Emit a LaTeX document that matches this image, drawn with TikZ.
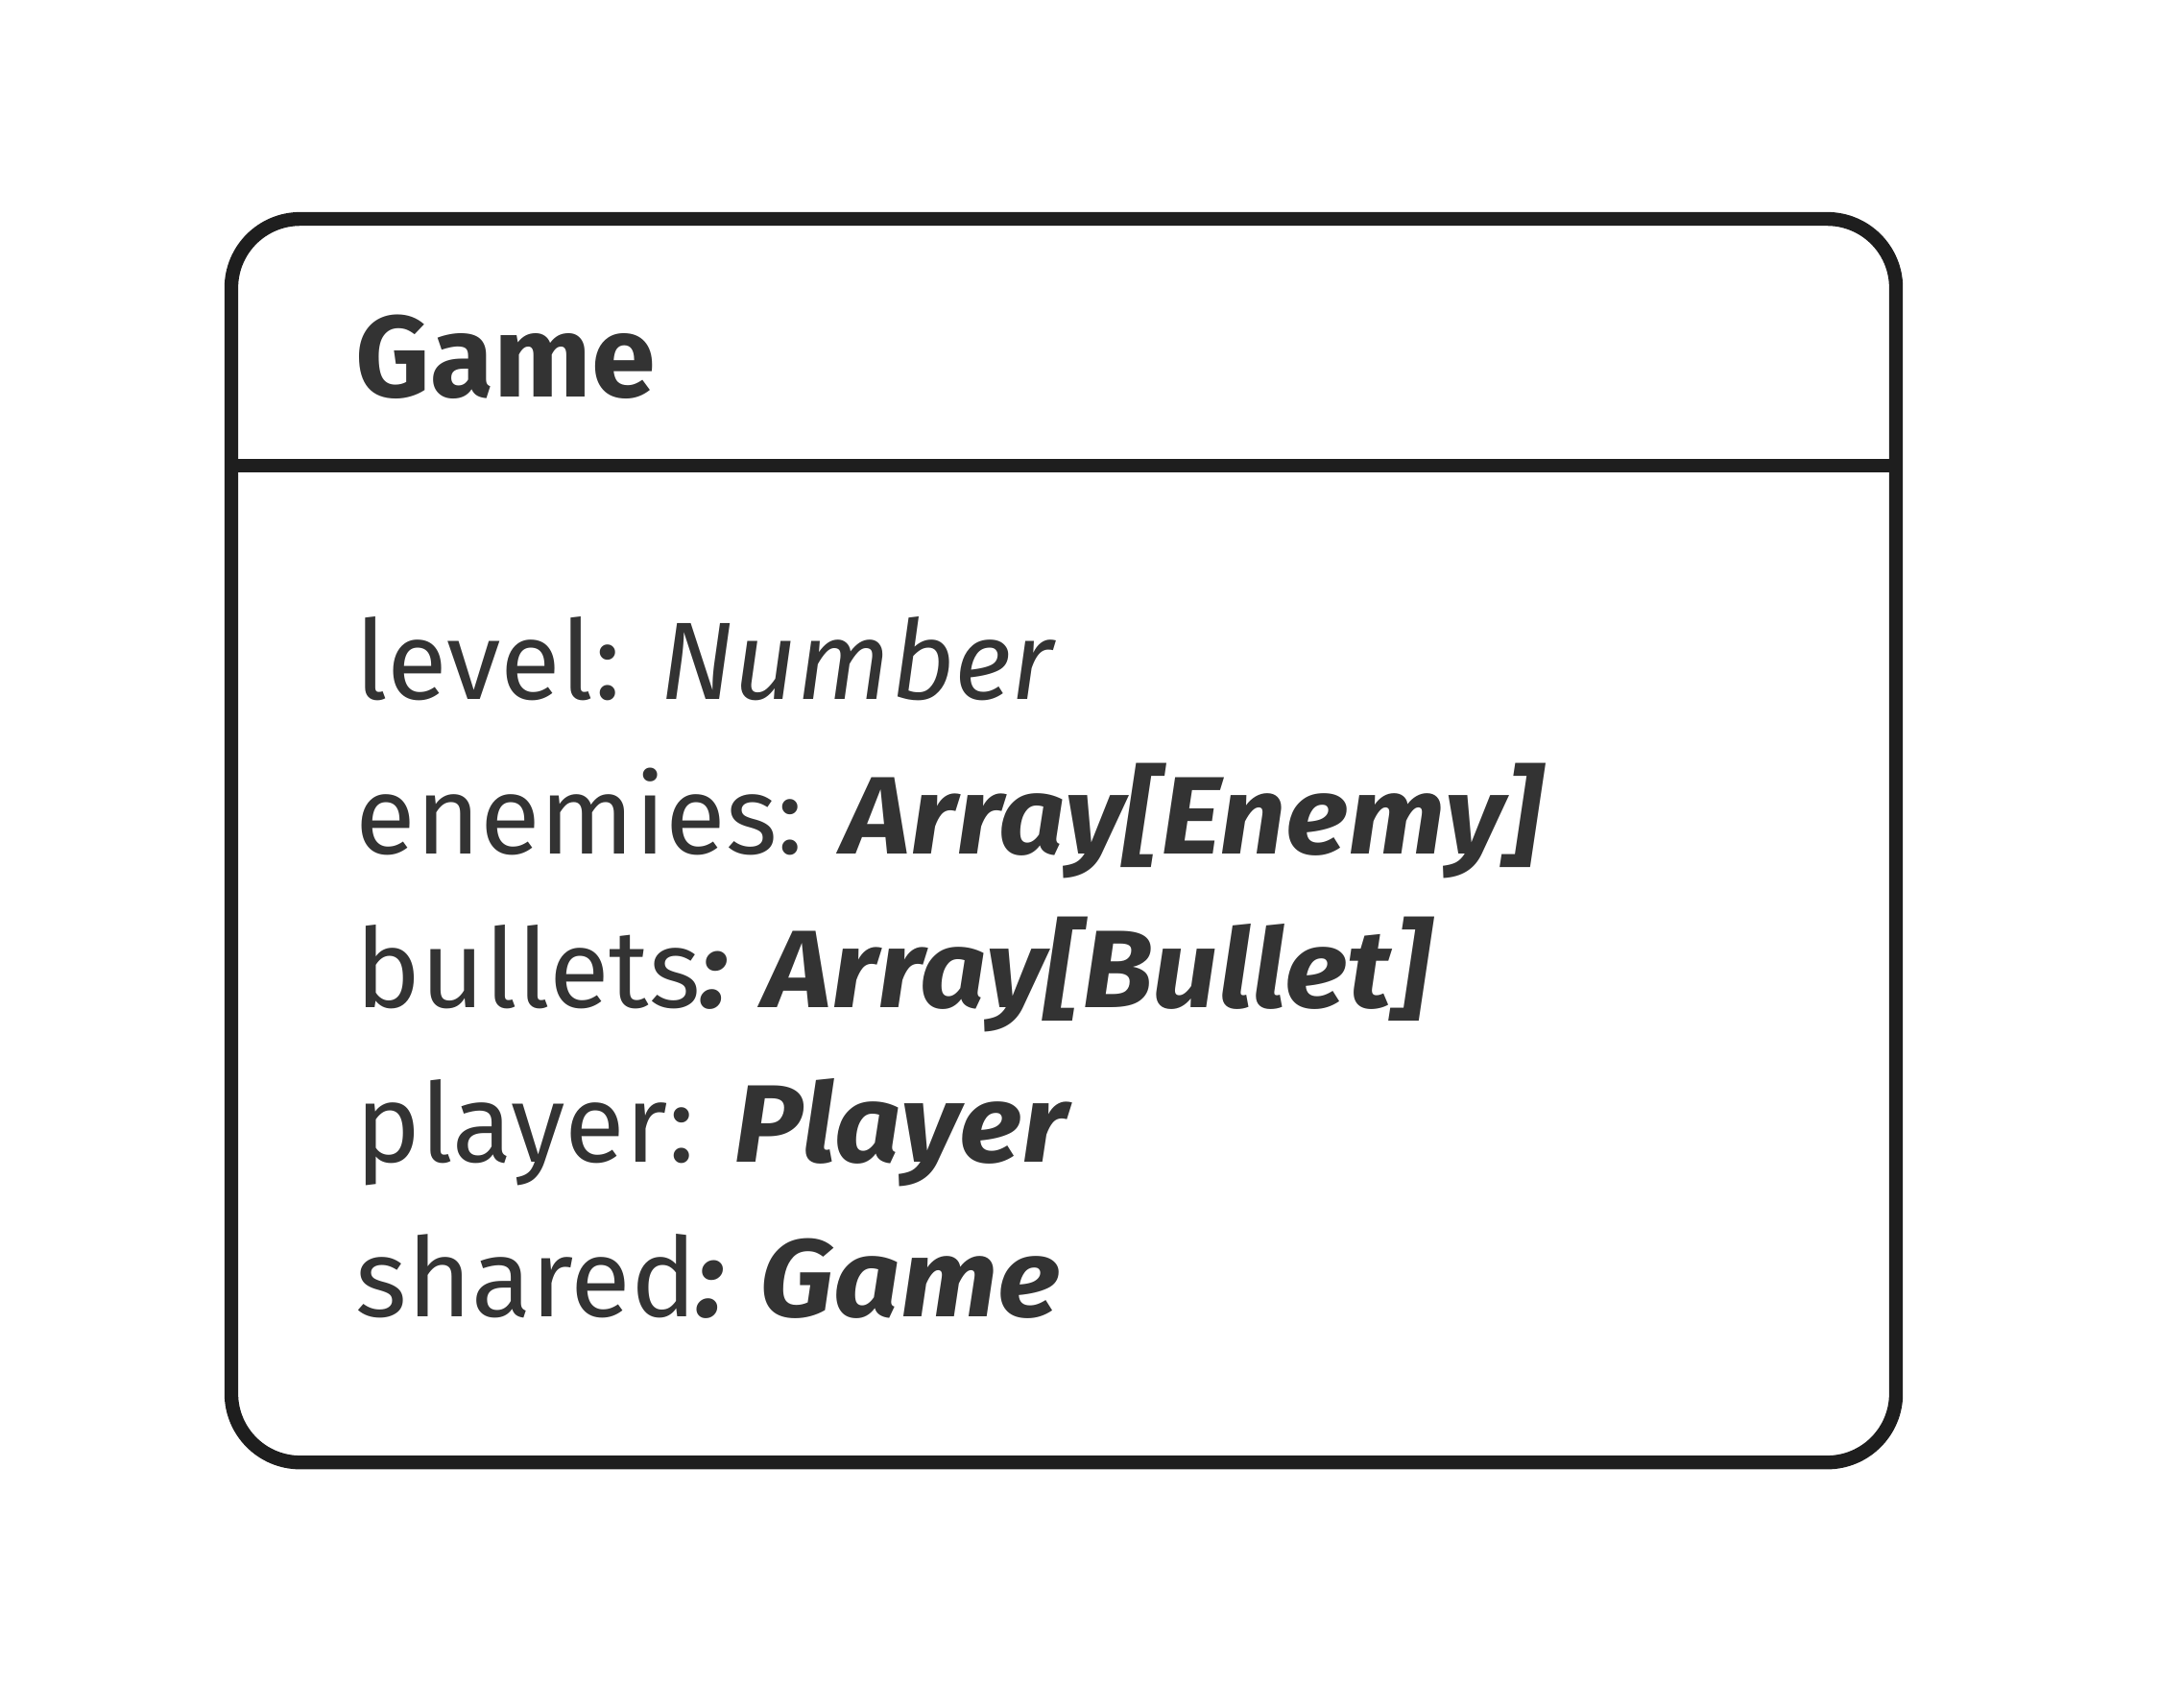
\documentclass[tikz,border=0pt]{standalone}
\usepackage{fontspec}
\setmainfont{Fira Sans}
\newfontfamily\typefont[BoldItalicFeatures={FakeStretch=1.06}]{Fira Sans}
\usetikzlibrary{positioning}
\definecolor{ink}{HTML}{333333}
\definecolor{frame}{HTML}{1E1E1E}
\newcommand{\attrtype}[1]{{\typefont\bfseries\itshape #1}}

\begin{document}
\begin{tikzpicture}[x=0.5pt, y=-0.5pt]
    \useasboundingbox (0,0) rectangle (1568,1240);
    % Class box
    \node [draw=frame, rectangle, rounded corners=25pt, line width=5pt, minimum width=604.5pt, minimum height=451.5pt, inner sep=0pt] (game) at (772.5,610.5) {};
    \coordinate (divl) at (168,338);
    \coordinate (divr) at (1377,338);
    \draw[frame, line width=5pt] (divl) -- (divr);

    % Title
    \node [anchor=base west, inner sep=0pt, text=ink, font=\fontsize{42}{50}\selectfont\bfseries] (title) at (258,288) {Game};

    % Attributes
    \node [anchor=base west, inner sep=0pt, text=ink, font=\fontsize{40}{48}\selectfont] (level) at (258,508) {level: \textit{Number}};
    \node [anchor=base west, inner sep=0pt, text=ink, font=\fontsize{40}{48}\selectfont] (enemies) at (258,620) {enemies: \attrtype{Array[Enemy]}};
    \node [anchor=base west, inner sep=0pt, text=ink, font=\fontsize{40}{48}\selectfont] (bullets) at (258,732) {bullets\attrtype{: Array[Bullet]}};
    \node [anchor=base west, inner sep=0pt, text=ink, font=\fontsize{40}{48}\selectfont] (player) at (258,844) {player: \attrtype{Player}};
    \node [anchor=base west, inner sep=0pt, text=ink, font=\fontsize{40}{48}\selectfont] (shared) at (258,956) {shared\attrtype{: Game}};
\end{tikzpicture}
\end{document}
